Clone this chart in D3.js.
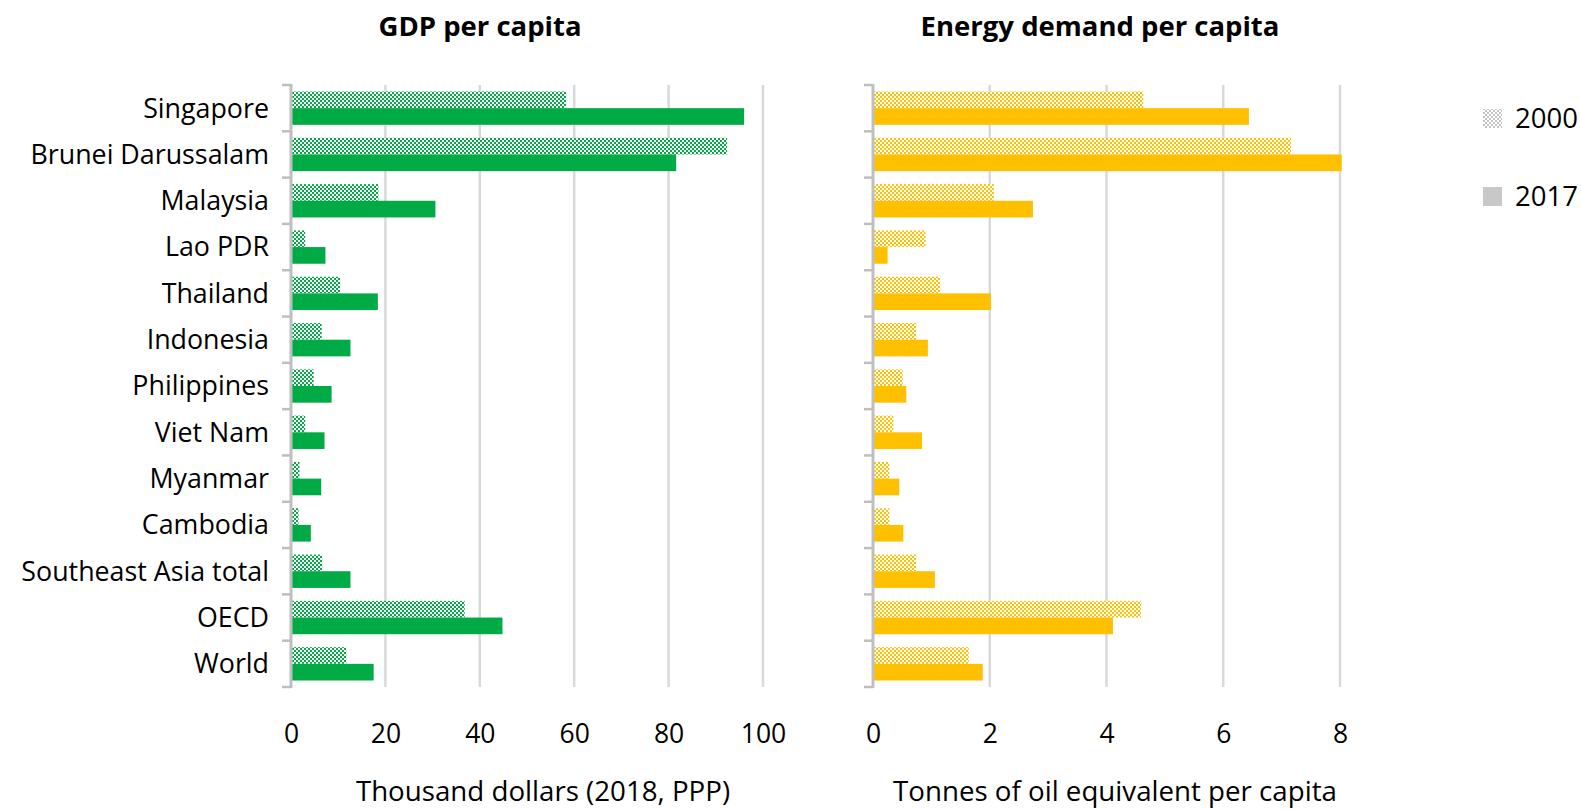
<script src="https://d3js.org/d3.v7.min.js"></script>

<div class="vis"></div>

<style>
  body { margin: 0; background: #fff; }
  text { font-family: "Open Sans", "Noto Sans", sans-serif; fill: #000; }
</style>

<script>
  // data
  var categories = ["Singapore", "Brunei Darussalam", "Malaysia", "Lao PDR", "Thailand",
    "Indonesia", "Philippines", "Viet Nam", "Myanmar", "Cambodia",
    "Southeast Asia total", "OECD", "World"];
  var years = ["2000", "2017"];

  var gdp2000 = [58.3, 92.4, 18.5, 3.0, 10.4, 6.5, 4.8, 3.0, 1.8, 1.6, 6.6, 36.8, 11.7];
  var gdp2017 = [96.0, 81.6, 30.6, 7.3, 18.4, 12.6, 8.6, 7.1, 6.4, 4.2, 12.6, 44.8, 17.5];
  var energy2000 = [4.63, 7.16, 2.07, 0.90, 1.15, 0.74, 0.51, 0.35, 0.28, 0.28, 0.74, 4.59, 1.64];
  var energy2017 = [6.44, 8.03, 2.74, 0.25, 2.02, 0.94, 0.57, 0.84, 0.45, 0.52, 1.06, 4.11, 1.88];

  var gdpTicks = [0, 20, 40, 60, 80, 100];
  var energyTicks = [0, 2, 4, 6, 8];

  var width = 1581, height = 809;
  var top_y = 85, bottom_y = 687;

  var svg = d3.select('.vis').append('svg')
    .attr('width', width)
    .attr('height', height);

  var defs = svg.append('defs');
  function checker(id, color) {
    var p = defs.append('pattern')
      .attr('id', id)
      .attr('patternUnits', 'userSpaceOnUse')
      .attr('width', 4).attr('height', 4);
    p.append('rect').attr('width', 4).attr('height', 4).attr('fill', '#fff');
    p.append('rect').attr('x', 0).attr('y', 0).attr('width', 2).attr('height', 2).attr('fill', color);
    p.append('rect').attr('x', 2).attr('y', 2).attr('width', 2).attr('height', 2).attr('fill', color);
  }
  checker('chk-green', '#00AA44');
  checker('chk-yellow', '#FFC000');
  checker('chk-grey', '#c4c4c4');

  var y = d3.scaleBand()
    .domain(categories)
    .range([top_y, bottom_y])
    .paddingInner(0.28)
    .paddingOuter(0.14);

  var ySub = d3.scaleBand()
    .domain(years)
    .range([0, y.bandwidth()]);

  function panel(opts) {
    var x = d3.scaleLinear().domain(opts.domain).range(opts.range);
    var g = svg.append('g');

    // gridlines
    g.selectAll('.grid')
      .data(opts.ticks.filter(function (t) { return t > 0; }))
      .join('line')
      .attr('x1', function (d) { return x(d); })
      .attr('x2', function (d) { return x(d); })
      .attr('y1', top_y)
      .attr('y2', bottom_y)
      .attr('stroke', '#d9d9d9')
      .attr('stroke-width', 2.5);

    // bars
    var rows = categories.map(function (c, i) {
      return { cat: c, v2000: opts.v2000[i], v2017: opts.v2017[i] };
    });
    g.selectAll('.b2000')
      .data(rows)
      .join('rect')
      .attr('x', x(0))
      .attr('y', function (d) { return y(d.cat) + ySub('2000'); })
      .attr('width', function (d) { return x(d.v2000) - x(0); })
      .attr('height', ySub.bandwidth())
      .attr('fill', 'url(#' + opts.pattern + ')');
    g.selectAll('.b2017')
      .data(rows)
      .join('rect')
      .attr('x', x(0))
      .attr('y', function (d) { return y(d.cat) + ySub('2017'); })
      .attr('width', function (d) { return x(d.v2017) - x(0); })
      .attr('height', ySub.bandwidth())
      .attr('fill', opts.color);

    // category axis: line + ticks at band boundaries
    var bounds = d3.range(categories.length + 1).map(function (i) {
      return top_y + i * y.step();
    });
    g.selectAll('.ytick')
      .data(bounds)
      .join('line')
      .attr('x1', x(0) - 9)
      .attr('x2', x(0))
      .attr('y1', function (d) { return d; })
      .attr('y2', function (d) { return d; })
      .attr('stroke', '#bfbfbf')
      .attr('stroke-width', 2.5);
    g.append('line')
      .attr('x1', x(0)).attr('x2', x(0))
      .attr('y1', top_y - 1).attr('y2', bottom_y + 1)
      .attr('stroke', '#bfbfbf')
      .attr('stroke-width', 3);

    // value axis labels
    var ax = g.append('g')
      .attr('transform', 'translate(0,724)')
      .call(d3.axisBottom(x).tickValues(opts.ticks).tickSize(0).tickPadding(0));
    ax.select('.domain').remove();
    ax.selectAll('text')
      .attr('font-size', 26.5)
      .attr('font-family', '"Open Sans", sans-serif')
      .attr('fill', '#000');

    g.append('text')
      .attr('x', opts.titleX)
      .attr('y', 36)
      .attr('text-anchor', 'middle')
      .attr('font-size', 27.5)
      .attr('font-weight', 'bold')
      .text(opts.title);

    g.append('text')
      .attr('x', opts.unitX)
      .attr('y', 801)
      .attr('text-anchor', 'middle')
      .attr('font-size', 27.7)
      .text(opts.unit);

    return x;
  }

  panel({
    domain: [0, 100], range: [291, 763], ticks: gdpTicks,
    v2000: gdp2000, v2017: gdp2017,
    color: '#00AA44', pattern: 'chk-green',
    title: 'GDP per capita', titleX: 480,
    unit: 'Thousand dollars (2018, PPP)', unitX: 543
  });

  panel({
    domain: [0, 8], range: [873, 1340], ticks: energyTicks,
    v2000: energy2000, v2017: energy2017,
    color: '#FFC000', pattern: 'chk-yellow',
    title: 'Energy demand per capita', titleX: 1100,
    unit: 'Tonnes of oil equivalent per capita', unitX: 1115
  });

  // category labels
  svg.selectAll('.cat')
    .data(categories)
    .join('text')
    .attr('x', 269)
    .attr('y', function (d) { return y(d) + y.bandwidth() / 2; })
    .attr('dy', '0.35em')
    .attr('text-anchor', 'end')
    .attr('font-size', 26.8)
    .text(function (d) { return d; });

  // legend
  var legend = svg.append('g').attr('transform', 'translate(1483,0)');
  var legendItems = [
    { label: years[0], fill: 'url(#chk-grey)', y: 109 },
    { label: years[1], fill: '#c8c8c8', y: 187 }
  ];
  legend.selectAll('rect')
    .data(legendItems)
    .join('rect')
    .attr('x', 0)
    .attr('y', function (d) { return d.y; })
    .attr('width', 19)
    .attr('height', 19)
    .attr('fill', function (d) { return d.fill; });
  legend.selectAll('text')
    .data(legendItems)
    .join('text')
    .attr('x', 32)
    .attr('y', function (d) { return d.y + 9.5; })
    .attr('dy', '0.35em')
    .attr('font-size', 27.5)
    .text(function (d) { return d.label; });
</script>
